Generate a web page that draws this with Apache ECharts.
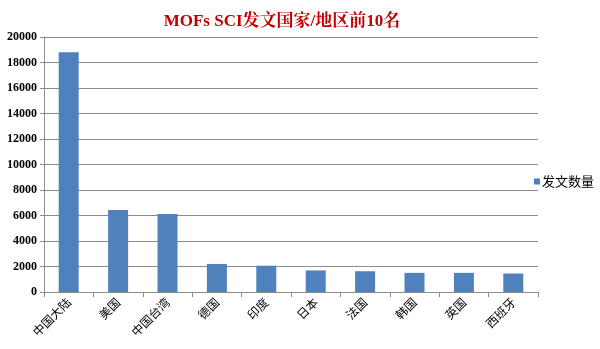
<!DOCTYPE html>
<html>
<head>
<meta charset="utf-8">
<script src="https://cdn.jsdelivr.net/npm/echarts@6/dist/echarts.min.js"></script>
<style>
  html, body { margin: 0; padding: 0; background: #fff; }
  #chart { width: 600px; height: 349px; }
</style>
</head>
<body>
<div id="chart"></div>
<script>
// Countries / regions and their publication counts
const categories = ['中国大陆', '美国', '中国台湾', '德国', '印度', '日本', '法国', '韩国', '英国', '西班牙'];
const paperCounts = [18800, 6430, 6120, 2200, 2060, 1690, 1630, 1500, 1500, 1450];
const seriesName = '发文数量';
const titleText = 'MOFs SCI发文国家/地区前10名';

const chart = echarts.init(document.getElementById('chart'), null, { renderer: 'canvas' });

chart.setOption({
  animation: false,
  backgroundColor: '#ffffff',
  title: {
    text: titleText,
    left: 277,
    textAlign: 'center',
    top: 8,
    textStyle: {
      color: '#c00000',
      fontFamily: 'Liberation Serif, Noto Serif CJK SC, Noto Sans CJK SC, serif',
      fontWeight: 'bold',
      fontSize: 17
    }
  },
  legend: {
    orient: 'vertical',
    left: 529,
    top: 170,
    itemWidth: 6,
    itemHeight: 6,
    itemGap: 4,
    icon: 'rect',
    textStyle: {
      fontFamily: 'Noto Sans CJK SC, sans-serif',
      fontSize: 13,
      color: '#000',
      padding: [0, 0, 0, -3]
    },
    data: [seriesName]
  },
  grid: {
    left: 44,
    right: 62,
    top: 37,
    bottom: 57,
    containLabel: false
  },
  xAxis: {
    type: 'category',
    data: categories,
    boundaryGap: true,
    axisLine: { lineStyle: { color: '#8c8c8c', width: 1 } },
    axisTick: { show: true, length: 5, alignWithLabel: false, lineStyle: { color: '#8c8c8c' } },
    axisLabel: {
      rotate: 45,
      margin: 8,
      interval: 0,
      color: '#000',
      fontFamily: 'Noto Sans CJK SC, sans-serif',
      fontSize: 12
    }
  },
  yAxis: {
    type: 'value',
    min: 0,
    max: 20000,
    interval: 2000,
    axisLine: { show: true, lineStyle: { color: '#8c8c8c', width: 1 } },
    axisTick: { show: true, length: 4, lineStyle: { color: '#8c8c8c' } },
    splitLine: { show: true, lineStyle: { color: '#8c8c8c', width: 1 } },
    axisLabel: {
      margin: 7,
      color: '#000',
      fontFamily: 'Liberation Serif, serif',
      fontWeight: 'bold',
      fontSize: 12,
      formatter: (v) => String(v)
    }
  },
  series: [{
    name: seriesName,
    type: 'bar',
    data: paperCounts,
    barWidth: 20,
    itemStyle: { color: '#4f81bd' }
  }]
});
</script>
</body>
</html>
